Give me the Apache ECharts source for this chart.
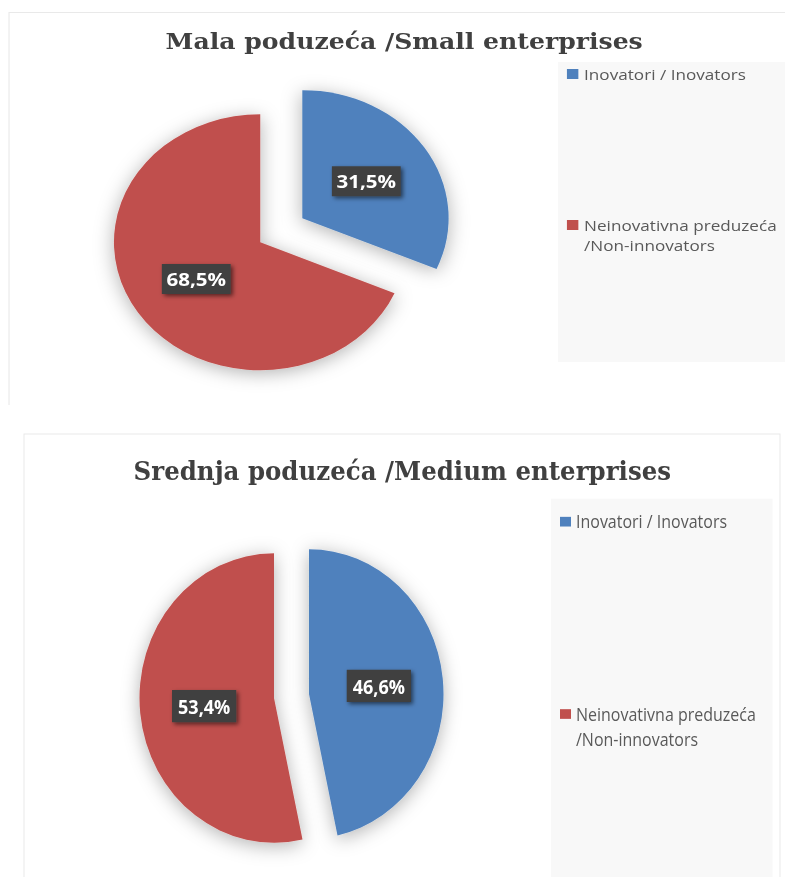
<!DOCTYPE html>
<html><head><meta charset="utf-8">
<script src="https://cdn.jsdelivr.net/npm/echarts@6/dist/echarts.min.js"></script>
<style>
html,body{margin:0;padding:0;background:#fff;width:785px;height:877px;overflow:hidden}
#top{position:absolute;left:0;top:0;width:687px;height:420px;transform:scale(1.143,1);transform-origin:0 0}
#bot{position:absolute;left:0;top:420px;width:785px;height:425px;transform:scale(1,1.076);transform-origin:0 0}
</style></head><body>
<div id="top"></div><div id="bot"></div>
<script>
// ---- data ----
const categories = ['Inovatori / Inovators', 'Neinovativna preduzeća /Non-innovators'];
const smallValues = [31.5, 68.5];
const mediumValues = [46.6, 53.4];
const titleSmall = 'Mala poduzeća /Small enterprises';
const titleMedium = 'Srednja poduzeća /Medium enterprises';
const colors = ['#4F81BD', '#C0504D'];

function fmt(p) { return String(p.value).replace('.', ',') + '%'; }

function makeOption(cfg) {
  return {
    animation: false,
    color: colors,
    title: {
      text: cfg.title, left: cfg.titleX, top: cfg.titleY, textAlign: 'center', padding: 0,
      textStyle: { fontFamily: 'DejaVu Serif', fontWeight: 'bold', fontSize: cfg.titleSize, color: '#404040' }
    },
    graphic: [
      { type: 'polyline', z: -5, silent: true, shape: { points: cfg.border }, style: { stroke: '#e9e9e9', lineWidth: 1, fill: null } },
      { type: 'rect', z: -5, silent: true, shape: cfg.legBox, style: { fill: '#f8f8f8' } }
    ],
    legend: [
      {
        orient: 'vertical', left: cfg.legX, top: cfg.leg1Y, padding: 0, icon: 'rect', selectedMode: false,
        itemWidth: cfg.iw, itemHeight: cfg.ih,
        textStyle: { fontFamily: 'Open Sans', fontSize: cfg.lfs, lineHeight: cfg.llh, color: '#595959' },
        data: [categories[0]]
      },
      {
        orient: 'vertical', left: cfg.legX, top: cfg.leg2Y, padding: 0, icon: 'rect', selectedMode: false,
        itemWidth: cfg.iw, itemHeight: cfg.ih,
        textStyle: { fontFamily: 'Open Sans', fontSize: cfg.lfs, lineHeight: cfg.llh, color: '#595959' },
        formatter: function (n) { return '\n' + n.replace(' /', '\n/'); },
        data: [categories[1]]
      }
    ],
    series: [{
      type: 'pie',
      center: cfg.center, radius: cfg.radius,
      startAngle: 90, clockwise: true,
      selectedMode: 'multiple', selectedOffset: cfg.offset,
      emphasis: { disabled: true },
      labelLine: { show: false },
      itemStyle: { shadowBlur: 18, shadowColor: 'rgba(0,0,0,0.3)', shadowOffsetY: 3 },
      label: {
        show: true, position: 'inside', formatter: fmt,
        color: '#ffffff', fontFamily: 'Open Sans', fontWeight: 'bold', fontSize: 18, lineHeight: 18,
        backgroundColor: '#404040', padding: cfg.lpad,
        shadowBlur: 4, shadowColor: 'rgba(0,0,0,0.55)', shadowOffsetX: 2, shadowOffsetY: 2
      },
      data: cfg.values.map(function (v, i) {
        return { name: categories[i], value: v, selected: cfg.selected[i] };
      })
    }]
  };
}

const topChart = echarts.init(document.getElementById('top'), null, { renderer: 'svg' });
topChart.setOption(makeOption({
  title: titleSmall, titleX: 353.6, titleY: 31, titleSize: 22,
  border: [[7.9, 405], [7.9, 12.5], [700, 12.5]],
  legBox: { x: 488.2, y: 62, width: 210, height: 300 },
  legX: 496, leg1Y: 64, leg2Y: 195, iw: 10, ih: 10, lfs: 15, llh: 20,
  center: [227.7, 242.3], radius: 128, offset: 44,
  lpad: [6, 4], values: smallValues, selected: [true, false]
}));

const botChart = echarts.init(document.getElementById('bot'), null, { renderer: 'svg' });
botChart.setOption(makeOption({
  title: titleMedium, titleX: 402.3, titleY: 35, titleSize: 24.5,
  border: [[24, 430], [24, 13], [780, 13], [780, 430]],
  legBox: { x: 551, y: 73.1, width: 221.5, height: 400 },
  legX: 560, leg1Y: 82.75, leg2Y: 238, iw: 11, ih: 9, lfs: 16, llh: 23.5,
  center: [291.5, 256.5], radius: 134.5, offset: 17.6,
  lpad: [6, 6], values: mediumValues, selected: [true, true]
}));
</script>
</body></html>
